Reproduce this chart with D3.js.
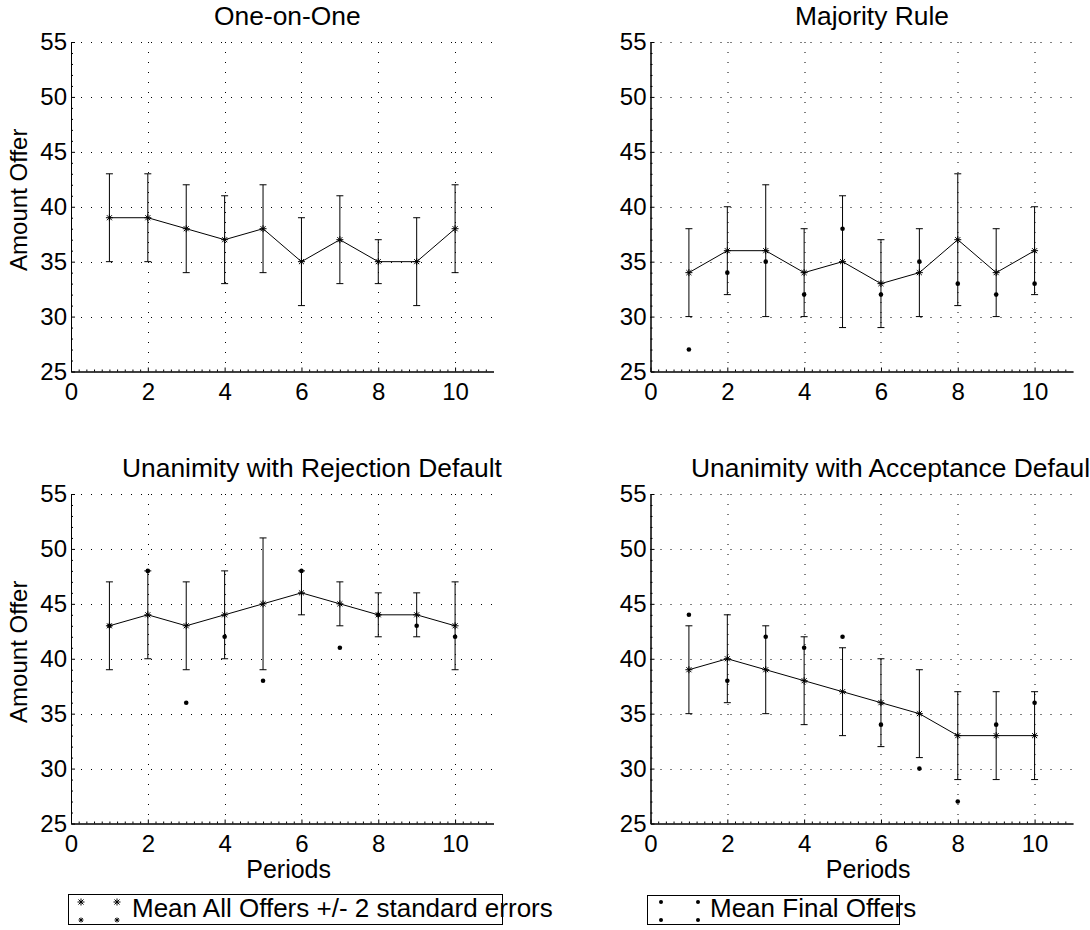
<!DOCTYPE html>
<meta charset="utf-8">
<style>

html, body {
  margin: 0;
  padding: 0;
  background: #fff;
}

svg {
  display: block;
  font-family: "Liberation Sans", Arial, sans-serif;
}

.grid line {
  stroke: #000;
  stroke-width: 1px;
  stroke-dasharray: 1, 9;
}

.axis path, .axis line {
  stroke: #000;
  stroke-width: 1px;
}

.axis text {
  font-size: 24px;
  fill: #000;
}

.errbar line, .mean-line, .star {
  stroke: #000;
  stroke-width: 1px;
  fill: none;
}

.final {
  fill: #000;
}

.title, .xlabel, .ylabel, .legend text {
  fill: #000;
}

</style>
<svg id="fig"></svg>
<script src="https://d3js.org/d3.v7.min.js"></script>
<script>

var width = 1090;
var height = 930;

// periods on the x axis
var periods = [1, 2, 3, 4, 5, 6, 7, 8, 9, 10];

// One-on-One
var oneMean = [39, 39, 38, 37, 38, 35, 37, 35, 35, 38];
var oneErr = [4, 4, 4, 4, 4, 4, 4, 2, 4, 4];

// Majority Rule
var majMean = [34, 36, 36, 34, 35, 33, 34, 37, 34, 36];
var majErr = [4, 4, 6, 4, 6, 4, 4, 6, 4, 4];
var majFinal = [27, 34, 35, 32, 38, 32, 35, 33, 32, 33];

// Unanimity with Rejection Default
var rejMean = [43, 44, 43, 44, 45, 46, 45, 44, 44, 43];
var rejErr = [4, 4, 4, 4, 6, 2, 2, 2, 2, 4];
var rejFinal = [43, 48, 36, 42, 38, 48, 41, 44, 43, 42];

// Unanimity with Acceptance Default
var accMean = [39, 40, 39, 38, 37, 36, 35, 33, 33, 33];
var accErr = [4, 4, 4, 4, 4, 4, 4, 4, 4, 4];
var accFinal = [44, 38, 42, 41, 42, 34, 30, 27, 34, 36];

var xTicks = [0, 2, 4, 6, 8, 10];
var yTicks = [25, 30, 35, 40, 45, 50, 55];
var xDomain = [0, 11];
var yDomain = [25, 55];

var legendLabels = ['Mean All Offers +/- 2 standard errors', 'Mean Final Offers'];

var panels = [
  {title: 'One-on-One', mean: oneMean, err: oneErr, final: null,
   left: 71, top: 42, titleX: 214, ylabel: true, xlabel: false},
  {title: 'Majority Rule', mean: majMean, err: majErr, final: majFinal,
   left: 650.5, top: 42, titleX: 795, ylabel: false, xlabel: false},
  {title: 'Unanimity with Rejection Default', mean: rejMean, err: rejErr, final: rejFinal,
   left: 71, top: 494, titleX: 122, ylabel: true, xlabel: true},
  {title: 'Unanimity with Acceptance Default', mean: accMean, err: accErr, final: accFinal,
   left: 650.5, top: 494, titleX: 691, ylabel: false, xlabel: true}
];

var pw = 422.5;
var ph = 329.5;

var svg = d3.select('#fig')
  .attr('width', width)
  .attr('height', height);

var starPath = function (r) {
  var d = r * 0.72;
  return 'M' + (-r) + ',0H' + r + 'M0,' + (-r) + 'V' + r +
    'M' + (-d) + ',' + (-d) + 'L' + d + ',' + d +
    'M' + (-d) + ',' + d + 'L' + d + ',' + (-d);
};

panels.forEach(function (p) {
  var g = svg.append('g')
    .attr('transform', 'translate(' + p.left + ',' + p.top + ')');

  var x = d3.scaleLinear().domain(xDomain).range([0, pw]);
  var y = d3.scaleLinear().domain(yDomain).range([ph, 0]);

  // dotted grid
  var grid = g.append('g').attr('class', 'grid');
  grid.selectAll('line.h')
    .data(yTicks.slice(1))
    .enter().append('line')
    .attr('class', 'h')
    .attr('x1', x(xDomain[0]))
    .attr('x2', x(xDomain[1]))
    .attr('y1', function (d) { return Math.round(y(d)) + 0.5; })
    .attr('y2', function (d) { return Math.round(y(d)) + 0.5; });
  grid.selectAll('line.v')
    .data(xTicks.slice(1))
    .enter().append('line')
    .attr('class', 'v')
    .attr('y1', y(yDomain[1]))
    .attr('y2', y(yDomain[0]))
    .attr('x1', function (d) { return Math.round(x(d)) + 0.5; })
    .attr('x2', function (d) { return Math.round(x(d)) + 0.5; });

  // minor ticks
  var xMinor = d3.range(0, 55).map(function (i) { return i * 0.2; })
    .filter(function (v) { return Math.abs(v / 2 - Math.round(v / 2)) > 1e-6; });
  var yMinor = d3.range(25, 56).filter(function (v) { return v % 5 !== 0; });

  g.append('g')
    .attr('class', 'axis')
    .attr('transform', 'translate(0,' + ph + ')')
    .call(d3.axisBottom(x).tickValues(xMinor).tickSizeInner(-2).tickSizeOuter(0).tickFormat(''));
  g.append('g')
    .attr('class', 'axis')
    .call(d3.axisLeft(y).tickValues(yMinor).tickSizeInner(-2).tickSizeOuter(0).tickFormat(''));

  // main axes
  g.append('g')
    .attr('class', 'axis')
    .attr('transform', 'translate(0,' + ph + ')')
    .call(d3.axisBottom(x).tickValues(xTicks).tickSizeInner(-4).tickSizeOuter(0).tickPadding(11));
  g.append('g')
    .attr('class', 'axis')
    .call(d3.axisLeft(y).tickValues(yTicks).tickSizeInner(-4).tickSizeOuter(0).tickPadding(4));

  // error bars
  var eb = g.append('g').attr('class', 'errbar')
    .selectAll('g')
    .data(periods.map(function (t, i) { return {t: t, m: p.mean[i], e: p.err[i]}; }))
    .enter().append('g');
  eb.append('line')
    .attr('x1', function (d) { return x(d.t); })
    .attr('x2', function (d) { return x(d.t); })
    .attr('y1', function (d) { return y(d.m - d.e); })
    .attr('y2', function (d) { return y(d.m + d.e); });
  eb.append('line')
    .attr('x1', function (d) { return x(d.t) - 3.5; })
    .attr('x2', function (d) { return x(d.t) + 3.5; })
    .attr('y1', function (d) { return y(d.m - d.e); })
    .attr('y2', function (d) { return y(d.m - d.e); });
  eb.append('line')
    .attr('x1', function (d) { return x(d.t) - 3.5; })
    .attr('x2', function (d) { return x(d.t) + 3.5; })
    .attr('y1', function (d) { return y(d.m + d.e); })
    .attr('y2', function (d) { return y(d.m + d.e); });

  // mean line
  g.append('path')
    .attr('class', 'mean-line')
    .attr('d', d3.line()
      .x(function (d, i) { return x(periods[i]); })
      .y(function (d) { return y(d); })(p.mean));

  g.append('g').selectAll('path')
    .data(p.mean)
    .enter().append('path')
    .attr('class', 'star')
    .attr('transform', function (d, i) { return 'translate(' + x(periods[i]) + ',' + y(d) + ')'; })
    .attr('d', starPath(3.5));

  // final offers
  if (p.final) {
    g.append('g').selectAll('circle')
      .data(p.final)
      .enter().append('circle')
      .attr('class', 'final')
      .attr('cx', function (d, i) { return x(periods[i]); })
      .attr('cy', function (d) { return y(d); })
      .attr('r', 2.3);
  }

  // titles and labels
  svg.append('text')
    .attr('class', 'title')
    .attr('x', p.titleX)
    .attr('y', p.top - 17)
    .style('font-size', '26.4px')
    .text(p.title);

  if (p.ylabel) {
    svg.append('text')
      .attr('class', 'ylabel')
      .attr('transform', 'translate(27,' + (p.top + ph / 2 - 7) + ') rotate(-90)')
      .attr('text-anchor', 'middle')
      .style('font-size', '24px')
      .text('Amount Offer');
  }

  if (p.xlabel) {
    svg.append('text')
      .attr('class', 'xlabel')
      .attr('x', p.left + pw / 2 - 36)
      .attr('y', p.top + ph + 54)
      .style('font-size', '25px')
      .text('Periods');
  }
});

// legends
var leg = svg.append('g').attr('class', 'legend');

leg.append('rect')
  .attr('x', 68.5).attr('y', 894.5)
  .attr('width', 434).attr('height', 30)
  .attr('fill', 'none').attr('stroke', '#000');
leg.selectAll('path')
  .data([[81, 902, 3.5], [117, 902, 3.5], [81, 920, 2.5], [117, 920, 2.5]])
  .enter().append('path')
  .attr('class', 'star')
  .attr('transform', function (d) { return 'translate(' + d[0] + ',' + d[1] + ')'; })
  .attr('d', function (d) { return starPath(d[2]); });
leg.append('text')
  .attr('x', 132).attr('y', 917)
  .style('font-size', '26px')
  .text(legendLabels[0]);

leg.append('rect')
  .attr('x', 647.5).attr('y', 895.5)
  .attr('width', 252).attr('height', 29)
  .attr('fill', 'none').attr('stroke', '#000');
leg.selectAll('circle')
  .data([[661, 902], [698, 902], [661, 920], [698, 920]])
  .enter().append('circle')
  .attr('class', 'final')
  .attr('cx', function (d) { return d[0]; })
  .attr('cy', function (d) { return d[1]; })
  .attr('r', 2);
leg.append('text')
  .attr('x', 710).attr('y', 917)
  .style('font-size', '26px')
  .text(legendLabels[1]);

</script>
